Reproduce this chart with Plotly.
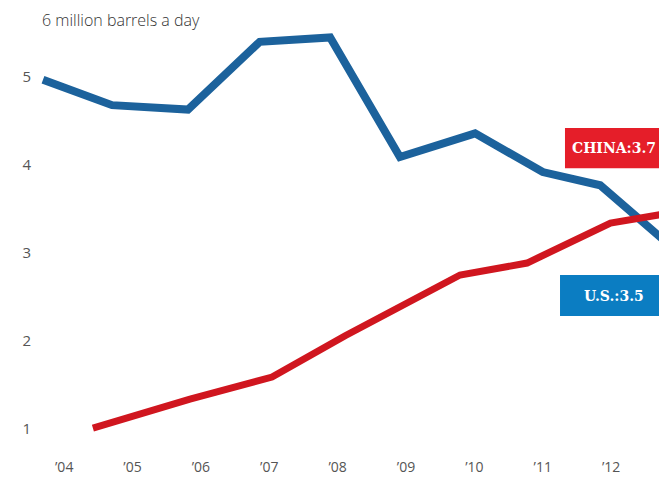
import plotly.graph_objects as go

# Oil imports, million barrels a day (fractional year positions)
us_years = [2003.69, 2004.70, 2005.81, 2006.86, 2007.89, 2008.91, 2010.01, 2011.00, 2011.84, 2012.75]
us_values = [4.97, 4.68, 4.63, 5.40, 5.45, 4.09, 4.36, 3.92, 3.77, 3.16]

china_years = [2004.42, 2005.84, 2007.04, 2008.11, 2009.79, 2010.77, 2011.99, 2012.75]
china_values = [1.01, 1.34, 1.59, 2.06, 2.75, 2.886, 3.34, 3.44]

year_ticks = [2004, 2005, 2006, 2007, 2008, 2009, 2010, 2011, 2012]
year_labels = ["\u201904", "\u201905", "\u201906", "\u201907", "\u201908",
               "\u201909", "\u201910", "\u201911", "\u201912"]
value_ticks = [1, 2, 3, 4, 5]

china_label = "CHINA:3.7"
us_label = "U.S.:3.5"

fig = go.Figure()
fig.add_trace(go.Scatter(x=us_years, y=us_values, mode="lines",
                         line=dict(color="#1c629c", width=8), hoverinfo="skip"))
fig.add_trace(go.Scatter(x=china_years, y=china_values, mode="lines",
                         line=dict(color="#d0161f", width=7), hoverinfo="skip"))

label_font = dict(family="DejaVu Serif", size=14, color="white", weight="bold")

fig.update_layout(
    width=659, height=479,
    margin=dict(l=38, r=0, t=0, b=22),
    paper_bgcolor="white", plot_bgcolor="white",
    showlegend=False,
    xaxis=dict(range=[2003.617, 2012.70], tickvals=year_ticks, ticktext=year_labels,
               showgrid=False, zeroline=False, showline=False, ticks="",
               tickfont=dict(family="Open Sans", size=14, color="#555555")),
    yaxis=dict(range=[0.682, 5.875], tickvals=value_ticks,
               showgrid=False, zeroline=False, showline=False, ticks="",
               ticklabelstandoff=6,
               tickfont=dict(family="Open Sans", size=15, color="#555555")),
    shapes=[
        dict(type="rect", xref="paper", yref="paper", x0=0.8486, x1=1.1, y0=0.632, y1=0.72,
             fillcolor="#e51e29", line=dict(width=0), layer="above"),
        dict(type="rect", xref="paper", yref="paper", x0=0.8406, x1=1.1, y0=0.3085, y1=0.398,
             fillcolor="#0b7dc2", line=dict(width=0), layer="above"),
    ],
    annotations=[
        dict(text="6 million barrels a day", xref="paper", yref="paper", x=0.003, y=0.956,
             xanchor="left", yanchor="middle", showarrow=False,
             font=dict(family="Open Sans", size=16, color="#333333", weight=300)),
        dict(text=china_label, xref="paper", yref="paper", x=0.8567, y=0.676,
             xanchor="left", yanchor="middle", showarrow=False, font=label_font),
        dict(text=us_label, xref="paper", yref="paper", x=0.8760, y=0.352,
             xanchor="left", yanchor="middle", showarrow=False, font=label_font),
    ],
)

fig.write_html("out.html")
